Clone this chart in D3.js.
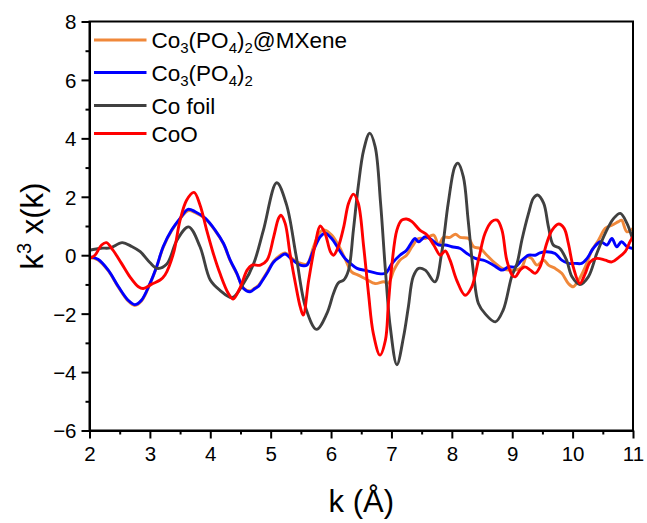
<!DOCTYPE html>
<html>
<head>
<meta charset="utf-8">
<script src="https://cdn.jsdelivr.net/npm/d3@7"></script>
<style>
  html, body { margin: 0; padding: 0; background: #fff; }
  text { font-family: "Liberation Sans", Arial, sans-serif; fill: #000; }
</style>
</head>
<body>
<svg id="chart" width="647" height="523"></svg>
<script>
// ---- Data ----
const kFoil = [2.00,2.19,2.34,2.54,2.70,2.84,3.00,3.12,3.28,3.45,3.64,3.83,4.00,4.16,4.36,4.55,4.72,4.88,5.10,5.26,5.42,5.58,5.76,5.93,6.04,6.12,6.21,6.29,6.37,6.45,6.54,6.64,6.73,6.82,6.90,6.98,7.09,7.20,7.28,7.36,7.45,7.56,7.72,7.83,7.94,8.05,8.10,8.19,8.27,8.36,8.44,8.55,8.72,8.85,8.99,9.08,9.16,9.27,9.35,9.42,9.52,9.60,9.68,9.79,9.90,9.99,10.12,10.26,10.40,10.54,10.68,10.79,10.90,11.00];
const vFoil = [0.17,0.24,0.25,0.43,0.30,0.12,-0.25,-0.45,-0.30,0.52,0.97,0.29,-0.85,-1.20,-1.45,-0.97,-0.28,0.86,2.48,1.75,0.00,-1.80,-2.54,-2.00,-1.31,-0.95,-0.85,-0.51,0.86,2.35,3.60,4.18,3.72,1.78,-0.51,-2.45,-3.75,-2.80,-1.77,-0.74,-0.45,-0.51,-0.91,0.06,1.78,3.03,3.15,2.69,1.20,-0.62,-1.65,-2.00,-2.28,-1.88,-0.74,-0.28,0.52,1.43,1.95,2.06,1.78,0.97,0.35,0.23,-0.17,-0.74,-1.00,-0.74,0.06,0.75,1.26,1.43,1.09,0.50];

const kCoO = [2.00,2.09,2.20,2.28,2.39,2.53,2.67,2.81,2.89,3.03,3.17,3.25,3.39,3.50,3.61,3.73,3.83,3.94,4.05,4.16,4.30,4.38,4.50,4.61,4.69,4.83,4.94,5.05,5.13,5.17,5.24,5.32,5.41,5.49,5.54,5.63,5.74,5.82,5.90,5.99,6.04,6.12,6.21,6.29,6.37,6.45,6.54,6.62,6.70,6.81,6.90,6.95,7.01,7.09,7.17,7.25,7.34,7.47,7.59,7.70,7.81,7.89,7.97,8.08,8.22,8.33,8.44,8.55,8.66,8.75,8.83,8.91,9.00,9.05,9.13,9.21,9.30,9.38,9.46,9.57,9.66,9.77,9.86,9.93,10.01,10.12,10.21,10.29,10.40,10.54,10.65,10.76,10.87,10.95,11.00];
const vCoO = [-0.11,0.00,0.35,0.43,0.17,-0.28,-0.74,-1.08,-1.14,-0.99,-0.85,-0.68,0.06,1.20,1.89,2.15,1.72,0.86,0.06,-0.62,-1.31,-1.50,-1.08,-0.51,-0.34,-0.34,-0.17,0.63,1.26,1.37,1.09,0.06,-0.97,-1.77,-2.05,-0.85,0.40,1.00,0.75,0.12,0.00,0.29,0.97,1.78,2.09,1.78,0.29,-1.31,-2.68,-3.42,-2.91,-1.65,-0.28,0.86,1.20,1.24,1.15,0.86,0.69,0.35,0.00,0.15,-0.17,-0.85,-1.37,-1.08,-0.17,0.75,1.15,1.20,0.86,-0.17,-0.68,-0.74,-0.51,-0.40,-0.51,-0.62,-0.40,0.40,0.86,1.07,0.92,0.40,-0.40,-0.97,-0.62,-0.23,-0.11,-0.17,-0.23,-0.08,0.12,0.46,0.63];

const kPO = [2.00,2.14,2.31,2.48,2.64,2.75,2.86,3.00,3.11,3.22,3.36,3.50,3.63,3.75,3.92,4.08,4.22,4.33,4.44,4.55,4.66,4.74,4.80,4.85,4.94,5.05,5.16,5.24,5.35,5.46,5.54,5.60,5.71,5.82,5.90,6.01,6.12,6.23,6.32,6.43,6.59,6.76,6.90,7.01,7.14,7.25,7.34,7.39,7.45,7.56,7.67,7.78,7.89,8.00,8.14,8.25,8.39,8.55,8.69,8.83,8.94,9.05,9.16,9.27,9.38,9.46,9.57,9.71,9.82,9.93,10.04,10.15,10.24,10.34,10.46,10.57,10.65,10.73,10.81,10.90,11.00];
const vPO = [-0.05,-0.14,-0.51,-1.08,-1.54,-1.69,-1.54,-0.97,-0.40,0.29,0.86,1.26,1.57,1.49,1.26,0.86,0.40,-0.17,-0.62,-1.14,-1.25,-1.14,-1.06,-0.91,-0.62,-0.23,-0.05,0.04,-0.14,-0.31,-0.36,-0.34,0.17,0.63,0.75,0.57,0.23,-0.11,-0.28,-0.45,-0.53,-0.62,-0.62,-0.28,0.00,0.17,0.46,0.57,0.46,0.63,0.52,0.35,0.35,0.29,0.23,0.06,-0.11,-0.19,-0.34,-0.51,-0.40,-0.40,-0.17,0.00,0.00,0.08,0.12,0.06,-0.17,-0.28,-0.28,-0.28,-0.11,0.23,0.46,0.35,0.57,0.29,0.46,0.29,0.23];

const kMX = [2.00,2.14,2.31,2.48,2.64,2.75,2.86,3.00,3.11,3.22,3.36,3.50,3.63,3.75,3.92,4.08,4.22,4.33,4.44,4.55,4.66,4.74,4.80,4.85,4.94,5.05,5.16,5.24,5.35,5.46,5.60,5.71,5.82,5.90,6.01,6.12,6.23,6.34,6.45,6.59,6.73,6.87,6.95,7.04,7.14,7.25,7.34,7.45,7.56,7.70,7.78,7.86,7.97,8.06,8.14,8.28,8.36,8.47,8.58,8.72,8.83,8.94,9.05,9.16,9.24,9.32,9.41,9.52,9.60,9.71,9.82,9.93,10.01,10.10,10.21,10.32,10.43,10.54,10.65,10.76,10.81,10.90,11.00];
const vMX = [-0.08,-0.16,-0.53,-1.10,-1.57,-1.72,-1.57,-0.99,-0.42,0.27,0.84,1.24,1.52,1.46,1.24,0.84,0.38,-0.19,-0.64,-1.12,-1.22,-1.12,-1.03,-0.88,-0.58,-0.20,0.00,0.08,-0.10,-0.25,-0.30,0.29,0.80,0.86,0.69,0.35,-0.11,-0.57,-0.68,-0.83,-0.97,-0.91,-0.95,-0.51,-0.17,0.00,0.29,0.57,0.57,0.69,0.35,0.61,0.61,0.72,0.61,0.57,0.29,0.23,0.00,-0.28,-0.45,-0.51,-0.51,-0.40,-0.05,-0.11,-0.34,-0.17,-0.34,-0.45,-0.62,-0.97,-1.08,-0.85,-0.40,0.17,0.52,0.92,1.03,1.15,1.20,0.80,0.92];

const seriesNames = ["Co\u2083(PO\u2084)\u2082@MXene", "Co\u2083(PO\u2084)\u2082", "Co foil", "CoO"];
const seriesColors = ["#F0883A", "#0000FF", "#404040", "#FF0000"];
const xTicks = [2,3,4,5,6,7,8,9,10,11];
const yTicks = [-6,-4,-2,0,2,4,6,8];

// ---- Layout ----
const svg = d3.select("#chart");
const L = 89.5, R = 633, T = 21.5, B = 430.5;
const x = d3.scaleLinear().domain([2, 11]).range([L, R]);
const y = d3.scaleLinear().domain([-6, 8]).range([B, T]);

const series = [
  {k: kMX, v: vMX},
  {k: kPO, v: vPO},
  {k: kFoil, v: vFoil},
  {k: kCoO, v: vCoO}
];

svg.append("defs").append("clipPath").attr("id", "clip")
  .append("rect").attr("x", L).attr("y", T).attr("width", R - L).attr("height", B - T);

const line = d3.line().x(d => x(d[0])).y(d => y(d[1])).curve(d3.curveCatmullRom.alpha(0.5));

const plot = svg.append("g").attr("clip-path", "url(#clip)");
series.forEach((s, i) => {
  const pts = s.k.map((kk, j) => [kk, s.v[j]]);
  plot.append("path").datum(pts)
    .attr("d", line)
    .attr("fill", "none")
    .attr("stroke", seriesColors[i])
    .attr("stroke-width", 2.9)
    .attr("stroke-linejoin", "round");
});

// ---- Axes ----
const xMinor = d3.range(2.5, 11, 1);
const yMinor = d3.range(-5, 8, 2);

const gx = svg.append("g").attr("transform", `translate(0,${B})`)
  .call(d3.axisBottom(x).tickValues(xTicks).tickSize(8).tickSizeOuter(0).tickPadding(8).tickFormat(d3.format("d")));
svg.append("g").attr("transform", `translate(0,${B})`)
  .call(d3.axisBottom(x).tickValues(xMinor).tickSize(4).tickSizeOuter(0).tickFormat(""))
  .select(".domain").remove();

const gy = svg.append("g").attr("transform", `translate(${L},0)`)
  .call(d3.axisLeft(y).tickValues(yTicks).tickSize(8).tickSizeOuter(0).tickPadding(5).tickFormat(d3.format("d")));
svg.append("g").attr("transform", `translate(${L},0)`)
  .call(d3.axisLeft(y).tickValues(yMinor).tickSize(4).tickSizeOuter(0).tickFormat(""))
  .select(".domain").remove();

svg.selectAll(".tick line").attr("stroke", "#000").attr("stroke-width", 2);
svg.selectAll(".domain").attr("stroke", "#000").attr("stroke-width", 2);
svg.selectAll(".tick text").attr("font-size", 20.5).attr("font-family", "Liberation Sans, Arial, sans-serif").attr("fill", "#000");
gy.selectAll(".tick text").attr("dy", "0.36em");

// frame
svg.append("rect").attr("x", L).attr("y", T).attr("width", R - L).attr("height", B - T)
  .attr("fill", "none").attr("stroke", "#000").attr("stroke-width", 2);

// ---- Axis titles ----
svg.append("text").attr("x", (L + R) / 2).attr("y", 512)
  .attr("text-anchor", "middle").attr("font-size", 31).text("k (\u00C5)");

const yl = svg.append("text").attr("transform", `translate(43,${(T + B) / 2}) rotate(-90)`)
  .attr("text-anchor", "middle").attr("font-size", 31);
yl.append("tspan").text("k");
yl.append("tspan").attr("font-size", 20).attr("dy", -12).text("3");
yl.append("tspan").attr("dy", 12).text(" x(k)");

// ---- Legend ----
const legendParts = [
  [["Co",0],["3",1],["(PO",0],["4",1],[")",0],["2",1],["@MXene",0]],
  [["Co",0],["3",1],["(PO",0],["4",1],[")",0],["2",1]],
  [["Co foil",0]],
  [["CoO",0]]
];
const legY = [40, 72.5, 105.5, 133.5];
legendParts.forEach((parts, i) => {
  svg.append("line").attr("x1", 94).attr("x2", 146.5).attr("y1", legY[i]).attr("y2", legY[i])
    .attr("stroke", seriesColors[i]).attr("stroke-width", 2.8);
  const t = svg.append("text").attr("x", 151.5).attr("y", legY[i] + 8).attr("font-size", 22.5);
  let sub = false;
  parts.forEach(([s, isSub]) => {
    const ts = t.append("tspan").text(s);
    if (isSub && !sub) { ts.attr("font-size", 15).attr("dy", 5); sub = true; }
    else if (isSub && sub) { ts.attr("font-size", 15); }
    else if (!isSub && sub) { ts.attr("dy", -5); sub = false; }
  });
});
</script>
</body>
</html>
